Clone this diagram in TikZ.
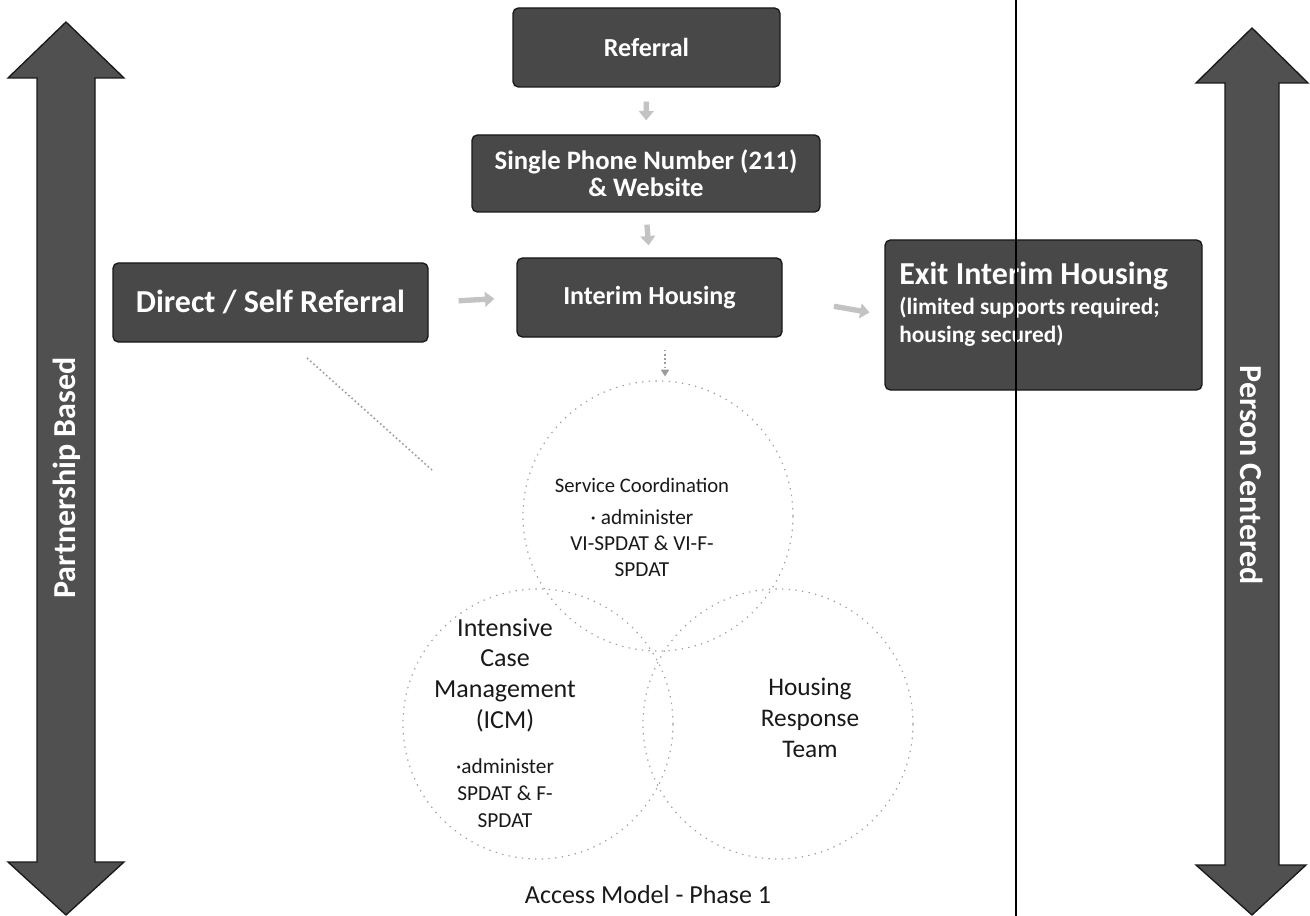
\documentclass[tikz,border=0pt]{standalone}
\usepackage{fontspec}
\setmainfont{Carlito}
\usetikzlibrary{arrows.meta}
\definecolor{boxgray}{RGB}{72,72,72}
\definecolor{arrgray}{RGB}{80,80,80}
\definecolor{faint}{RGB}{195,195,195}
\definecolor{venn}{RGB}{160,160,160}
\tikzset{
  darkbox/.style={draw=black!90, line width=1pt, fill=boxgray, rounded corners=4pt, text=white, font=\bfseries, inner sep=0pt, align=center},
  bigarrow/.style={draw=black!90, line width=1pt, fill=arrgray},
  arrlabel/.style={text=white, font=\bfseries\fontsize{24}{28}\selectfont, inner sep=0pt},
  faintarrow/.style={draw=faint, line width=4pt, -{Triangle[width=11pt,length=7pt]}},
  faintdots/.style={draw=faint!80!black, line width=1.2pt, dotted},
  venncircle/.style={circle, draw=venn, line width=0.9pt, dash pattern=on 1pt off 4pt, minimum size=270*0.75pt, inner sep=0pt},
  venntext/.style={align=center, inner sep=0pt, text=black!90}
}
\begin{document}
\begin{tikzpicture}[x=0.75pt,y=-0.75pt]
\useasboundingbox (0,0) rectangle (1310,916);
\fill[white] (0,0) rectangle (1310,916);

% left double arrow
\draw[bigarrow] (66,22) -- (124,78) -- (95,78) -- (95,862) -- (124,862) -- (66,915) -- (8,862) -- (37,862) -- (37,78) -- (8,78) -- cycle;
\node[arrlabel, rotate=90] (pb) at (67,478) {Partnership Based};

% right double arrow
\draw[bigarrow] (1252,28) -- (1308,83) -- (1279,83) -- (1279,865) -- (1306,865) -- (1252,915) -- (1196,865) -- (1225,865) -- (1225,83) -- (1196,83) -- cycle;
\node[arrlabel, rotate=-90] (pc) at (1252,475) {Person Centered};

% boxes
\node[darkbox, minimum width=267*0.75pt, minimum height=79*0.75pt, font=\bfseries\fontsize{19.5}{22}\selectfont] (ref) at (646.5,47.5) {Referral};
\node[darkbox, minimum width=348*0.75pt, minimum height=77*0.75pt, font=\bfseries\fontsize{20}{20}\selectfont] (phone) at (646,173.5) {Single Phone Number (211)\\ \& Website};
\node[darkbox, minimum width=265*0.75pt, minimum height=79*0.75pt, font=\bfseries\fontsize{19.5}{22}\selectfont] (interim) at (649.5,297.5) {Interim Housing};
\node[darkbox, minimum width=315*0.75pt, minimum height=79*0.75pt, font=\bfseries\fontsize{24}{26}\selectfont] (direct) at (270.5,302.5) {Direct / Self Referral};
\node[darkbox, minimum width=317*0.75pt, minimum height=150*0.75pt] (exit) at (1043.5,315) {};
\node[anchor=north west, align=left, text=white, inner sep=0pt, font=\bfseries\fontsize{17.5}{20.5}\selectfont] (exittxt) at (899,262) {{\fontsize{24}{24}\selectfont Exit Interim Housing}\\[2pt] (limited supports required;\\ housing secured)};

% separator line
\coordinate (ltop) at (1016,0);
\coordinate (lbot) at (1016,916);
\draw[line width=1.1pt, black] (ltop) -- (lbot);

% venn circles
\node[venncircle] (sc) at (658,516) {};
\node[venncircle] (icm) at (538,724) {};
\node[venncircle] (hrt) at (778,724) {};

% faint connectors
\draw[faintarrow, shorten <=14*0.75pt, shorten >=14*0.75pt] (ref.south) -- (phone.north);
\draw[faintarrow, shorten <=12*0.75pt, shorten >=12*0.75pt] (phone.south) -- (interim.north);
\draw[faintarrow, shorten <=30*0.75pt, shorten >=22*0.75pt] (direct.east) -- (interim.west);
\draw[faintarrow, shorten <=52*0.75pt, shorten >=15*0.75pt] (interim.east) -- (exit.west);
\draw[faintdots, -{Triangle[width=6pt,length=5pt]}, shorten <=12*0.75pt, shorten >=4*0.75pt] (interim.south -| 665,0) -- (sc.north -| 665,0);
\coordinate (d1) at (307,358);
\coordinate (d2) at (432,470);
\draw[faintdots] (d1) -- (d2);

% venn texts
\node[venntext, font=\fontsize{15.5}{18}\selectfont] (sctitle) at (642,485) {Service Coordination};
\node[venntext, font=\fontsize{16}{19.5}\selectfont] (scbody) at (642,543) {· administer\\ VI-SPDAT \& VI-F-\\ SPDAT};
\node[venntext, font=\fontsize{19.5}{23}\selectfont] (icmtitle) at (505,675) {Intensive\\ Case\\ Management\\ (ICM)};
\node[venntext, font=\fontsize{16}{20}\selectfont] (icmbody) at (505,793) {·administer\\ SPDAT \& F-\\ SPDAT};
\node[venntext, font=\fontsize{19}{23}\selectfont] (hrttxt) at (810,718) {Housing\\ Response\\ Team};
\node[venntext, font=\fontsize{19.5}{22}\selectfont] (title) at (648,895) {Access Model - Phase 1};
\end{tikzpicture}
\end{document}
